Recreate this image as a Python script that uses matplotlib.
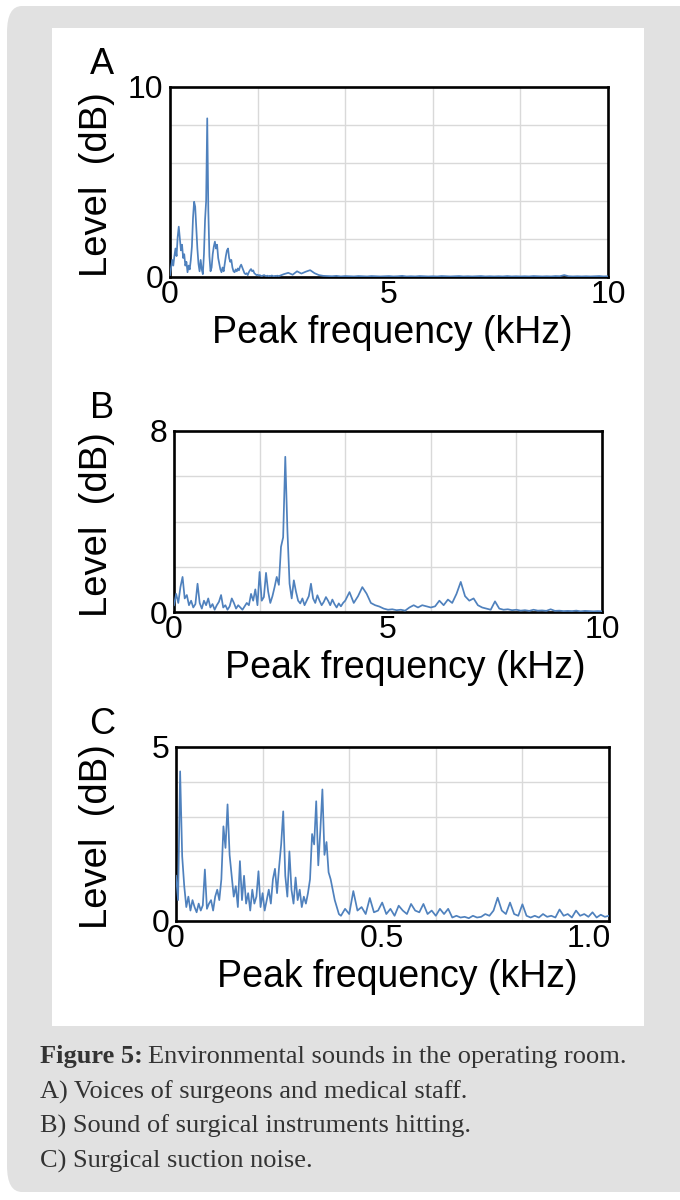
import numpy as np
import matplotlib.pyplot as plt
from matplotlib.patches import FancyBboxPatch, Rectangle

plt.rcParams['font.family'] = ['Liberation Sans', 'DejaVu Sans']

# A) voices: 0-2.475 kHz every 0.025 kHz, then 2.5-10 kHz every 0.1 kHz
level_a_low = [0.1, 0.5, 0.9, 0.6, 1.1, 1.5, 1.1, 2.1, 2.65, 2.0,
               1.4, 1.7, 1.0, 1.2, 0.6, 0.8, 0.25, 0.6, 0.4, 0.9,
               1.6, 3.1, 3.96, 3.7, 2.6, 1.5, 0.7, 0.3, 0.9, 0.4,
               0.15, 1.2, 3.0, 4.0, 8.35, 3.5, 1.1, 0.3, 0.5, 1.2,
               1.6, 1.86, 1.5, 1.7, 1.0, 0.7, 0.4, 0.25, 0.5, 0.3,
               0.7, 1.1, 1.4, 1.5, 1.0, 0.8, 0.9, 0.5, 0.3, 0.25,
               0.4, 0.3, 0.45, 0.35, 0.55, 0.65, 0.5, 0.35, 0.2, 0.15,
               0.2, 0.1, 0.25, 0.35, 0.42, 0.3, 0.35, 0.2, 0.15, 0.1,
               0.12, 0.08, 0.1, 0.06, 0.05, 0.08, 0.1, 0.06, 0.05, 0.07,
               0.04, 0.06, 0.05, 0.08, 0.05, 0.04, 0.06, 0.05, 0.07, 0.05]
level_a_high = [0.06, 0.15, 0.22, 0.12, 0.3, 0.18, 0.28, 0.36, 0.2, 0.1,
                0.06, 0.05, 0.04, 0.06, 0.03, 0.05, 0.04, 0.03, 0.05, 0.04,
                0.03, 0.05, 0.04, 0.03, 0.04, 0.05, 0.03, 0.04, 0.06, 0.03,
                0.04, 0.03, 0.05, 0.04, 0.03, 0.04, 0.03, 0.05, 0.04, 0.03,
                0.04, 0.05, 0.03, 0.04, 0.03, 0.04, 0.05, 0.03, 0.04, 0.03,
                0.04, 0.03, 0.05, 0.03, 0.04, 0.03, 0.04, 0.03, 0.05, 0.04,
                0.03, 0.04, 0.03, 0.05, 0.04, 0.1, 0.04, 0.03, 0.04, 0.03,
                0.04, 0.03, 0.04, 0.05, 0.03, 0.04]

# B) instruments: 0-3.95 kHz every 0.05 kHz, then 4-10 kHz every 0.1 kHz
level_b_low = [0.3, 0.8, 0.4, 1.1, 1.55, 0.6, 0.75, 0.3, 0.5, 0.2,
               0.35, 1.25, 0.4, 0.15, 0.5, 0.3, 0.6, 0.2, 0.35, 0.1,
               0.3, 0.45, 0.75, 0.2, 0.3, 0.1, 0.25, 0.6, 0.4, 0.15,
               0.3, 0.2, 0.1, 0.25, 0.4, 0.3, 0.8, 0.5, 1.0, 0.3,
               1.77, 0.5, 0.66, 1.73, 0.9, 0.4, 0.7, 1.1, 1.55, 1.2,
               2.88, 3.3, 6.86, 3.6, 1.25, 0.6, 1.4, 0.9, 0.5, 0.38,
               0.6, 0.3, 0.5, 0.7, 1.25, 0.6, 0.4, 0.74, 0.5, 0.3,
               0.45, 0.66, 0.5, 0.3, 0.55, 0.35, 0.2, 0.38, 0.25, 0.4]
level_b_high = [0.5, 0.88, 0.4, 0.7, 1.1, 0.81, 0.4, 0.3, 0.24, 0.15,
                0.1, 0.12, 0.08, 0.1, 0.06, 0.2, 0.3, 0.2, 0.3, 0.25,
                0.2, 0.25, 0.5, 0.3, 0.55, 0.4, 0.8, 1.33, 0.7, 0.5,
                0.6, 0.3, 0.2, 0.15, 0.1, 0.47, 0.15, 0.1, 0.12, 0.08,
                0.1, 0.06, 0.08, 0.05, 0.1, 0.06, 0.07, 0.05, 0.12, 0.05,
                0.06, 0.04, 0.05, 0.04, 0.06, 0.03, 0.05, 0.04, 0.03, 0.04,
                0.03]

# C) suction: 0-0.395 kHz every 0.005 kHz, then 0.40-1.05 kHz every 0.01 kHz
level_c_low = [1.3, 0.6, 4.3, 1.86, 1.0, 0.4, 0.7, 0.3, 0.6, 0.4,
               0.25, 0.5, 0.3, 0.45, 1.48, 0.35, 0.5, 0.6, 0.3, 0.7,
               0.9, 0.6, 1.2, 2.72, 2.1, 3.35, 1.9, 1.3, 0.7, 1.0,
               0.4, 1.72, 0.6, 1.3, 0.5, 0.8, 0.3, 0.9, 0.5, 0.7,
               1.43, 0.4, 0.8, 0.3, 0.6, 0.9, 0.5, 1.2, 1.5, 0.8,
               1.55, 2.2, 3.15, 1.3, 0.7, 2.0, 0.9, 0.5, 1.25, 0.6,
               0.9, 0.4, 0.7, 0.5, 0.8, 1.2, 2.5, 2.2, 3.44, 1.6,
               2.6, 3.78, 1.9, 2.27, 1.4, 1.2, 0.9, 0.6, 0.4, 0.2]
level_c_high = [0.15, 0.35, 0.2, 0.86, 0.3, 0.4, 0.2, 0.66, 0.25, 0.3,
                0.53, 0.2, 0.35, 0.15, 0.44, 0.3, 0.2, 0.49, 0.3, 0.25,
                0.49, 0.2, 0.3, 0.15, 0.35, 0.2, 0.35, 0.1, 0.15, 0.1,
                0.12, 0.08, 0.15, 0.1, 0.12, 0.2, 0.15, 0.3, 0.67, 0.3,
                0.2, 0.53, 0.2, 0.15, 0.48, 0.15, 0.1, 0.15, 0.1, 0.2,
                0.12, 0.15, 0.1, 0.33, 0.15, 0.2, 0.1, 0.3, 0.15, 0.2,
                0.12, 0.25, 0.1, 0.18, 0.12, 0.15]

freq_a = np.concatenate([np.arange(len(level_a_low)) * 0.025,
                         2.5 + np.arange(len(level_a_high)) * 0.1])
freq_b = np.concatenate([np.arange(len(level_b_low)) * 0.05,
                         4.0 + np.arange(len(level_b_high)) * 0.1])
freq_c = np.concatenate([np.arange(len(level_c_low)) * 0.005,
                         0.40 + np.arange(len(level_c_high)) * 0.01])

panels = [
    # letter, freq, level, xmax, ymax, n_ygrid, xticks, xticklabels, axes box (px), xlabel shift
    ('A', freq_a, level_a_low + level_a_high, 10, 10, 5, [0, 5, 10], ['0', '5', '10'],
     (170, 87, 608, 277), 3),
    ('B', freq_b, level_b_low + level_b_high, 10, 8, 4, [0, 5, 10], ['0', '5', '10'],
     (174, 431, 602, 612), 17),
    ('C', freq_c, level_c_low + level_c_high, 1.05, 5, 5, [0, 0.5, 1.0], ['0', '0.5', '1.0'],
     (176, 747, 609, 921), 5),
]

W, H = 680, 1200
fig = plt.figure(figsize=(W / 100, H / 100), dpi=100)
fig.patch.set_facecolor('white')

# grey card and white panel (behind the axes)
fig.patches.append(FancyBboxPatch((7 / W, 1 - 1192 / H), 700 / W, 1186 / H,
                                  boxstyle='round,pad=0,rounding_size=0.022',
                                  transform=fig.transFigure, facecolor='#e1e1e1',
                                  edgecolor='none', zorder=-2))
fig.patches.append(Rectangle((52 / W, 1 - 1026 / H), 592 / W, 998 / H,
                             transform=fig.transFigure, facecolor='white',
                             edgecolor='none', zorder=-1))

line_color = '#4f81bd'
for letter, f, lv, xmax, ymax, ny, xt, xtl, (x0, y0, x1, y1), dx in panels:
    ax = fig.add_axes([x0 / W, 1 - y1 / H, (x1 - x0) / W, (y1 - y0) / H])
    ax.set_zorder(2)
    ax.plot(f, lv, color=line_color, lw=1.25, zorder=3)
    ax.set_xlim(0, xmax)
    ax.set_ylim(0, ymax)
    ax.set_xticks(np.linspace(0, xmax, 6), minor=True)
    ax.set_yticks(np.linspace(0, ymax, ny + 1), minor=True)
    ax.set_xticks(xt)
    ax.set_xticklabels(xtl)
    ax.set_yticks([0, ymax])
    ax.set_yticklabels(['0', str(ymax)])
    ax.grid(which='minor', color='#d9d9d9', lw=1.0)
    ax.grid(which='major', visible=False)
    ax.tick_params(which='both', length=0, labelsize=23, colors='black')
    ax.tick_params(axis='x', pad=2)
    ax.tick_params(axis='y', pad=5)
    for s in ax.spines.values():
        s.set_linewidth(1.9)
        s.set_color('black')
    ax.set_axisbelow(True)

    yc = (y0 + y1) / 2
    fig.text(97 / W, 1 - (yc + 3) / H, 'Level  (dB)', rotation=90, ha='center',
             va='center', fontsize=27.5)
    fig.text(102 / W, 1 - (y0 - 23) / H, letter, ha='center', va='center', fontsize=26)
    fig.text(((x0 + x1) / 2 + dx) / W, 1 - (y1 + 56) / H, 'Peak frequency (kHz)',
             ha='center', va='center', fontsize=27)

# caption
cap_font = dict(family=['Liberation Serif', 'DejaVu Serif'], fontsize=19, color='#333333')
t = fig.text(40 / W, 1 - 1057 / H, 'Figure 5:', fontweight='bold', va='center', **cap_font)
fig.canvas.draw()
bb = t.get_window_extent()
fig.text(bb.x1 / W + 5 / W, 1 - 1057 / H, 'Environmental sounds in the operating room.',
         va='center', **cap_font)
captions = ['A) Voices of surgeons and medical staff.',
            'B) Sound of surgical instruments hitting.',
            'C) Surgical suction noise.']
for i, c in enumerate(captions):
    fig.text(40 / W, 1 - (1092 + 34.5 * i) / H, c, va='center', **cap_font)

fig.savefig('out.png', dpi=100)
